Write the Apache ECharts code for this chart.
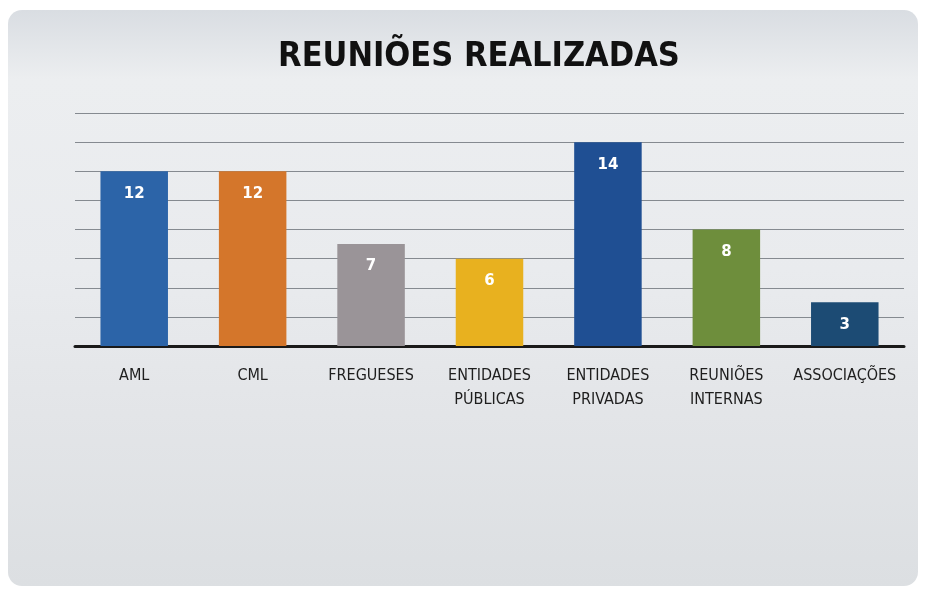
<!DOCTYPE html>
<html>
<head>
<meta charset="utf-8">
<script src="https://cdn.jsdelivr.net/npm/echarts@6/dist/echarts.min.js"></script>
<style>
  html, body { margin: 0; padding: 0; background: #ffffff; }
  #wrap {
    position: absolute; left: 8px; top: 10px; width: 910px; height: 576px;
    border-radius: 14px;
    background: linear-gradient(180deg, #d9dde2 0%, #eceef0 12%, #e9ebee 45%, #e3e5e8 70%, #dcdfe2 100%);
  }
  #main { position: absolute; left: 0; top: 0; width: 926px; height: 593px; }
</style>
</head>
<body>
<div id="wrap"></div>
<div id="main"></div>
<script>
// categorias e valores
var categorias = ['AML', 'CML', 'FREGUESES', 'ENTIDADES\nPÚBLICAS', 'ENTIDADES\nPRIVADAS', 'REUNIÕES\nINTERNAS', 'ASSOCIAÇÕES'];
var valores = [12, 12, 7, 6, 14, 8, 3];
var cores = ['#2c64a8', '#d4762b', '#9a9498', '#e8b11f', '#1f4f93', '#6e8e3c', '#1c4b74'];

var myChart = echarts.init(document.getElementById('main'));

var option = {
  backgroundColor: 'transparent',
  title: {
    text: 'REUNIÕES REALIZADAS',
    left: 474,
    textAlign: 'center',
    top: 35,
    textStyle: {
      fontFamily: 'Liberation Sans Narrow, DejaVu Sans Condensed, sans-serif',
      fontSize: 34,
      fontWeight: 'bold',
      color: '#111'
    }
  },
  grid: { left: 75, right: 22, top: 113, bottom: 247, containLabel: false },
  xAxis: {
    type: 'category',
    data: categorias,
    axisLine: { lineStyle: { color: '#1a1a1a', width: 3 } },
    axisTick: { show: false },
    axisLabel: {
      interval: 0,
      margin: 18,
      fontFamily: 'Liberation Sans Narrow, DejaVu Sans Condensed, sans-serif',
      fontSize: 16,
      lineHeight: 24,
      color: '#1e1e1e'
    }
  },
  yAxis: {
    type: 'value',
    min: 0,
    max: 16,
    interval: 2,
    axisLine: { show: false },
    axisTick: { show: false },
    axisLabel: { show: false },
    splitLine: { lineStyle: { color: '#858a90', width: 1.2 } }
  },
  series: [{
    type: 'bar',
    barWidth: '57%',
    data: valores.map(function (v, i) {
      return { value: v, itemStyle: { color: cores[i] } };
    }),
    label: {
      show: true,
      position: 'insideTop',
      distance: 15,
      color: '#ffffff',
      fontFamily: 'DejaVu Sans, sans-serif',
      fontWeight: 'bold',
      fontSize: 15
    }
  }]
};

myChart.setOption(option);
</script>
</body>
</html>
